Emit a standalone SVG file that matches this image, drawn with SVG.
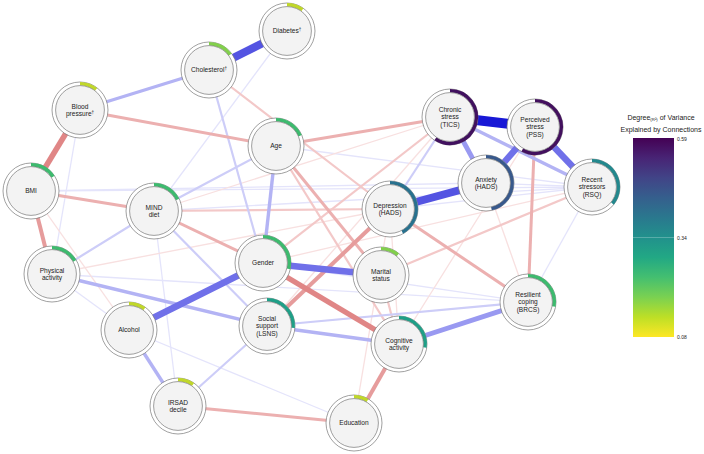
<svg xmlns="http://www.w3.org/2000/svg" width="704" height="454" viewBox="0 0 704 454">
<defs>
<linearGradient id="viridis" x1="0" y1="0" x2="0" y2="1">
<stop offset="0" stop-color="#440154"/>
<stop offset="0.1" stop-color="#482475"/>
<stop offset="0.2" stop-color="#414487"/>
<stop offset="0.3" stop-color="#355f8d"/>
<stop offset="0.4" stop-color="#2a788e"/>
<stop offset="0.5" stop-color="#21918c"/>
<stop offset="0.6" stop-color="#22a884"/>
<stop offset="0.7" stop-color="#44bf70"/>
<stop offset="0.8" stop-color="#7ad151"/>
<stop offset="0.9" stop-color="#bddf26"/>
<stop offset="1" stop-color="#fde725"/>
</linearGradient>
</defs>
<style>
.e{fill:none;stroke-linecap:butt}
.b1{stroke:#e4e4fb;stroke-width:1.3}
.b2{stroke:#cdcdf8;stroke-width:2.2}
.b3{stroke:#b3b3f4;stroke-width:3.4}
.b4{stroke:#9999f1;stroke-width:4.8}
.b5{stroke:#7070e9;stroke-width:6.5}
.b6{stroke:#5454e2;stroke-width:8}
.b7{stroke:#1818d6;stroke-width:10}
.r1{stroke:#f8e0e0;stroke-width:1.3}
.r2{stroke:#f3c8c8;stroke-width:2.2}
.r3{stroke:#ecb0b0;stroke-width:3}
.r4{stroke:#e69c9c;stroke-width:4}
.r5{stroke:#e08686;stroke-width:5.5}
.ring{fill:#ffffff;stroke:#777;stroke-width:0.7}
.core{fill:#f3f3f3;stroke:#777;stroke-width:0.7}
.arc{fill:none;stroke-width:3.6}
.lbl{font-family:"Liberation Sans",Arial,sans-serif;font-size:6.6px;fill:#222;text-anchor:middle}
.sup{font-size:4.5px}
.leg{font-family:"Liberation Sans",Arial,sans-serif;fill:#222}
</style>
<rect width="704" height="454" fill="#ffffff"/>
<g id="edges">
<!-- faint blue -->
<line class="e b1" x1="31" y1="191" x2="592" y2="187"/>
<line class="e b1" x1="154" y1="211" x2="592" y2="187"/>
<line class="e b1" x1="528" y1="302" x2="52" y2="274"/>
<line class="e b1" x1="528" y1="302" x2="592" y2="187"/>
<line class="e b1" x1="154" y1="211" x2="178" y2="406"/>
<line class="e b1" x1="80" y1="110" x2="52" y2="274"/>
<line class="e b1" x1="52" y1="274" x2="129" y2="330"/>
<line class="e b1" x1="129" y1="330" x2="354" y2="423"/>
<line class="e b1" x1="287" y1="31" x2="154" y2="211"/>
<line class="e b1" x1="263" y1="263" x2="528" y2="302"/>
<line class="e b1" x1="276" y1="146" x2="592" y2="187"/>
<line class="e b1" x1="486" y1="183" x2="592" y2="187"/>
<line class="e b1" x1="390" y1="209" x2="592" y2="187"/>
<line class="e b1" x1="31" y1="191" x2="486" y2="183"/>
<!-- faint red -->
<line class="e r1" x1="486" y1="183" x2="528" y2="302"/>
<line class="e r1" x1="354" y1="423" x2="390" y2="209"/>
<line class="e r1" x1="52" y1="274" x2="390" y2="209"/>
<line class="e r1" x1="31" y1="191" x2="129" y2="330"/>
<line class="e r1" x1="263" y1="263" x2="592" y2="187"/>
<line class="e r1" x1="450" y1="117" x2="154" y2="211"/>
<line class="e r1" x1="390" y1="209" x2="399" y2="344"/>
<line class="e r1" x1="535" y1="127" x2="399" y2="344"/>
<line class="e r1" x1="450" y1="117" x2="267" y2="326"/>
<line class="e r2" x1="209" y1="70" x2="390" y2="209"/>
<line class="e r2" x1="381" y1="275" x2="592" y2="187"/>
<line class="e r2" x1="381" y1="275" x2="399" y2="344"/>
<line class="e r2" x1="154" y1="211" x2="390" y2="209"/>
<line class="e r2" x1="450" y1="117" x2="263" y2="263"/>
<line class="e r2" x1="276" y1="146" x2="399" y2="344"/>
<!-- medium blue -->
<line class="e b2" x1="209" y1="70" x2="263" y2="263"/>
<line class="e b2" x1="178" y1="406" x2="267" y2="326"/>
<line class="e b2" x1="276" y1="146" x2="154" y2="211"/>
<line class="e b2" x1="52" y1="274" x2="154" y2="211"/>
<line class="e b2" x1="450" y1="117" x2="390" y2="209"/>
<line class="e b2" x1="528" y1="302" x2="267" y2="326"/>
<line class="e b2" x1="154" y1="211" x2="267" y2="326"/>
<!-- medium red -->
<line class="e r3" x1="80" y1="110" x2="276" y2="146"/>
<line class="e r3" x1="276" y1="146" x2="450" y2="117"/>
<line class="e r3" x1="31" y1="191" x2="154" y2="211"/>
<line class="e r3" x1="154" y1="211" x2="263" y2="263"/>
<line class="e r3" x1="178" y1="406" x2="354" y2="423"/>
<line class="e r3" x1="535" y1="127" x2="528" y2="302"/>
<line class="e r3" x1="390" y1="209" x2="528" y2="302"/>
<line class="e r3" x1="276" y1="146" x2="381" y2="275"/>
<line class="e r4" x1="31" y1="191" x2="52" y2="274"/>
<line class="e r4" x1="267" y1="326" x2="390" y2="209"/>
<line class="e r4" x1="399" y1="344" x2="354" y2="423"/>
<line class="e r5" x1="80" y1="110" x2="31" y2="191"/>
<line class="e r5" x1="263" y1="263" x2="399" y2="344"/>
<!-- strong blue -->
<line class="e b3" x1="80" y1="110" x2="209" y2="70"/>
<line class="e b3" x1="276" y1="146" x2="263" y2="263"/>
<line class="e b3" x1="129" y1="330" x2="178" y2="406"/>
<line class="e b3" x1="52" y1="274" x2="267" y2="326"/>
<line class="e b3" x1="267" y1="326" x2="399" y2="344"/>
<line class="e b3" x1="450" y1="117" x2="592" y2="187"/>
<line class="e b4" x1="450" y1="117" x2="486" y2="183"/>
<line class="e b4" x1="399" y1="344" x2="528" y2="302"/>
<line class="e b5" x1="535" y1="127" x2="486" y2="183"/>
<line class="e b5" x1="535" y1="127" x2="592" y2="187"/>
<line class="e b5" x1="263" y1="263" x2="381" y2="275"/>
<line class="e b5" x1="263" y1="263" x2="129" y2="330"/>
<line class="e b6" x1="209" y1="70" x2="287" y2="31"/>
<line class="e b6" x1="390" y1="209" x2="486" y2="183"/>
<line class="e b7" x1="450" y1="117" x2="535" y2="127"/>
</g>
<g id="nodes">
<g id="n-diabetes" transform="translate(287,31)">
<circle class="ring" r="28"/><path class="arc" stroke="#c0d72a" d="M0,-26.2A26.2,26.2 0 0 1 15.4,-21.2"/><circle class="core" r="24.4"/>
<text class="lbl" y="2.4">Diabetes<tspan class="sup" dy="-2.6">†</tspan></text>
</g>
<g id="n-cholesterol" transform="translate(209,70)">
<circle class="ring" r="28"/><path class="arc" stroke="#82cf4c" d="M0,-26.2A26.2,26.2 0 0 1 21.2,-15.4"/><circle class="core" r="24.4"/>
<text class="lbl" y="2.4">Cholesterol<tspan class="sup" dy="-2.6">†</tspan></text>
</g>
<g id="n-bp" transform="translate(80,110)">
<circle class="ring" r="28"/><path class="arc" stroke="#c0d72a" d="M0,-26.2A26.2,26.2 0 0 1 16.1,-20.6"/><circle class="core" r="24.4"/>
<text class="lbl" y="-1.5">Blood</text><text class="lbl" y="6.3">pressure<tspan class="sup" dy="-2.6">†</tspan></text>
</g>
<g id="n-bmi" transform="translate(31,191)">
<circle class="ring" r="28"/><path class="arc" stroke="#3dba6e" d="M0,-26.2A26.2,26.2 0 0 1 22,-14.3"/><circle class="core" r="24.4"/>
<text class="lbl" y="2.4">BMI</text>
</g>
<g id="n-mind" transform="translate(154,211)">
<circle class="ring" r="28"/><path class="arc" stroke="#3dba6e" d="M0,-26.2A26.2,26.2 0 0 1 23.5,-11.5"/><circle class="core" r="24.4"/>
<text class="lbl" y="-1.5">MIND</text><text class="lbl" y="6.3">diet</text>
</g>
<g id="n-age" transform="translate(276,146)">
<circle class="ring" r="28"/><path class="arc" stroke="#3dba6e" d="M0,-26.2A26.2,26.2 0 0 1 24.1,-10.2"/><circle class="core" r="24.4"/>
<text class="lbl" y="2.4">Age</text>
</g>
<g id="n-tics" transform="translate(450,117)">
<circle class="ring" r="28"/><path class="arc" stroke="#41115f" d="M0,-26.2A26.2,26.2 0 1 1 -14.6,21.7"/><circle class="core" r="24.4"/>
<text class="lbl" y="-5.4">Chronic</text><text class="lbl" y="2.4">stress</text><text class="lbl" y="10.2">(TICS)</text>
</g>
<g id="n-pss" transform="translate(535,127)">
<circle class="ring" r="28"/><path class="arc" stroke="#43105e" d="M0,-26.2A26.2,26.2 0 1 1 -12.7,22.9"/><circle class="core" r="24.4"/>
<text class="lbl" y="-5.4">Perceived</text><text class="lbl" y="2.4">stress</text><text class="lbl" y="10.2">(PSS)</text>
</g>
<g id="n-anxiety" transform="translate(486,183)">
<circle class="ring" r="28"/><path class="arc" stroke="#38598c" d="M0,-26.2A26.2,26.2 0 0 1 5.4,25.6"/><circle class="core" r="24.4"/>
<text class="lbl" y="-1.5">Anxiety</text><text class="lbl" y="6.3">(HADS)</text>
</g>
<g id="n-rsq" transform="translate(592,187)">
<circle class="ring" r="28"/><path class="arc" stroke="#23888d" d="M0,-26.2A26.2,26.2 0 0 1 20.4,16.5"/><circle class="core" r="24.4"/>
<text class="lbl" y="-5.4">Recent</text><text class="lbl" y="2.4">stressors</text><text class="lbl" y="10.2">(RSQ)</text>
</g>
<g id="n-depression" transform="translate(390,209)">
<circle class="ring" r="28"/><path class="arc" stroke="#28718e" d="M0,-26.2A26.2,26.2 0 0 1 12.3,23.1"/><circle class="core" r="24.4"/>
<text class="lbl" y="-1.5">Depression</text><text class="lbl" y="6.3">(HADS)</text>
</g>
<g id="n-gender" transform="translate(263,263)">
<circle class="ring" r="28"/><path class="arc" stroke="#3dba6e" d="M0,-26.2A26.2,26.2 0 0 1 25.5,5.9"/><circle class="core" r="24.4"/>
<text class="lbl" y="2.4">Gender</text>
</g>
<g id="n-marital" transform="translate(381,275)">
<circle class="ring" r="28"/><path class="arc" stroke="#82cf4c" d="M0,-26.2A26.2,26.2 0 0 1 16.8,-20.1"/><circle class="core" r="24.4"/>
<text class="lbl" y="-1.5">Marital</text><text class="lbl" y="6.3">status</text>
</g>
<g id="n-social" transform="translate(267,326)">
<circle class="ring" r="28"/><path class="arc" stroke="#1f9f87" d="M0,-26.2A26.2,26.2 0 0 1 26.1,1.8"/><circle class="core" r="24.4"/>
<text class="lbl" y="-5.4">Social</text><text class="lbl" y="2.4">support</text><text class="lbl" y="10.2">(LSNS)</text>
</g>
<g id="n-physical" transform="translate(52,274)">
<circle class="ring" r="28"/><path class="arc" stroke="#3dba6e" d="M0,-26.2A26.2,26.2 0 0 1 22.7,-13.1"/><circle class="core" r="24.4"/>
<text class="lbl" y="-1.5">Physical</text><text class="lbl" y="6.3">activity</text>
</g>
<g id="n-alcohol" transform="translate(129,330)">
<circle class="ring" r="28"/><path class="arc" stroke="#c0d72a" d="M0,-26.2A26.2,26.2 0 0 1 15.4,-21.2"/><circle class="core" r="24.4"/>
<text class="lbl" y="2.4">Alcohol</text>
</g>
<g id="n-irsad" transform="translate(178,406)">
<circle class="ring" r="28"/><path class="arc" stroke="#c0d72a" d="M0,-26.2A26.2,26.2 0 0 1 15,-21.5"/><circle class="core" r="24.4"/>
<text class="lbl" y="-1.5">IRSAD</text><text class="lbl" y="6.3">decile</text>
</g>
<g id="n-cognitive" transform="translate(399,344)">
<circle class="ring" r="28"/><path class="arc" stroke="#1f9f87" d="M0,-26.2A26.2,26.2 0 0 1 25.9,3.6"/><circle class="core" r="24.4"/>
<text class="lbl" y="-1.5">Cognitive</text><text class="lbl" y="6.3">activity</text>
</g>
<g id="n-resilient" transform="translate(528,302)">
<circle class="ring" r="28"/><path class="arc" stroke="#3dba6e" d="M0,-26.2A26.2,26.2 0 0 1 25.8,4.5"/><circle class="core" r="24.4"/>
<text class="lbl" y="-5.4">Resilient</text><text class="lbl" y="2.4">coping</text><text class="lbl" y="10.2">(BRCS)</text>
</g>
<g id="n-education" transform="translate(354,423)">
<circle class="ring" r="28"/><path class="arc" stroke="#c0d72a" d="M0,-26.2A26.2,26.2 0 0 1 13.5,-22.5"/><circle class="core" r="24.4"/>
<text class="lbl" y="2.4">Education</text>
</g>
</g>
<g id="legend">
<text class="leg" x="661" y="119.5" font-size="7" text-anchor="middle">Degree<tspan font-size="4.3" dy="1.5">(R²)</tspan><tspan dy="-1.5"> of Variance</tspan></text>
<text class="leg" x="661" y="132" font-size="7" text-anchor="middle">Explained by Connections</text>
<rect x="633" y="138" width="41" height="199" fill="url(#viridis)"/>
<line x1="633" y1="237.5" x2="674" y2="237.5" stroke="#ffffff" stroke-opacity="0.5" stroke-width="0.5"/>
<text class="leg" x="677" y="141" font-size="5">0.59</text>
<text class="leg" x="677" y="239.5" font-size="5">0.34</text>
<text class="leg" x="677" y="339" font-size="5">0.08</text>
</g>
</svg>
